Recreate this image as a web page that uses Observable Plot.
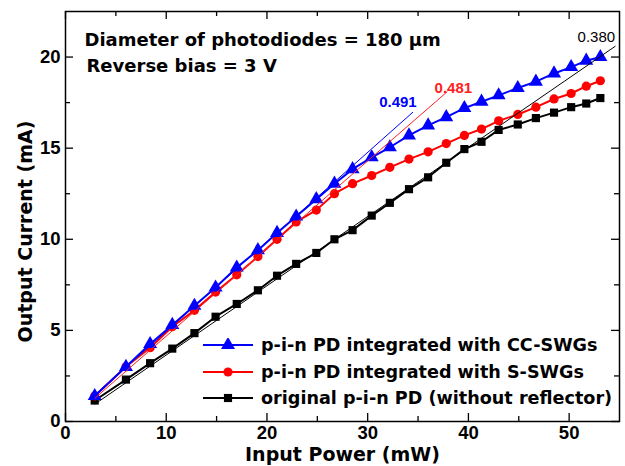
<!DOCTYPE html>
<html><head><meta charset="utf-8">
<script src="https://cdn.jsdelivr.net/npm/d3@7"></script>
<script src="https://cdn.jsdelivr.net/npm/@observablehq/plot@0.6"></script>
<style>
body{margin:0;background:#fff;}
#wrap{position:relative;width:625px;height:466px;}
#legend{position:absolute;left:203px;top:333px;font-family:"DejaVu Sans";font-weight:bold;font-size:17.6px;color:#000;}
.row{position:absolute;left:0;height:24px;white-space:nowrap;display:flex;align-items:center;}
.row svg{margin-right:6px;}
</style></head><body><div id="wrap"></div>
<script>
// ---- data ----
const power = [2.9, 6.0, 8.4, 10.6, 12.8, 14.9, 17.0, 19.1, 21.0, 22.9, 24.9, 26.7, 28.5, 30.4, 32.2, 34.1, 36.0, 37.8, 39.6, 41.3, 43.0, 44.9, 46.7, 48.5, 50.2, 51.7, 53.1];
const ccSwgCurrent = [1.4, 3.0, 4.25, 5.3, 6.35, 7.35, 8.45, 9.4, 10.35, 11.25, 12.2, 13.05, 13.85, 14.5, 15.05, 15.7, 16.25, 16.7, 17.2, 17.55, 17.9, 18.3, 18.65, 19.1, 19.45, 19.8, 20.0];
const sSwgCurrent = [1.4, 3.0, 4.05, 5.2, 6.1, 7.1, 8.05, 9.05, 10.0, 10.95, 11.6, 12.5, 13.05, 13.5, 13.95, 14.4, 14.8, 15.25, 15.7, 16.05, 16.5, 16.85, 17.25, 17.7, 18.0, 18.4, 18.7];
const originalCurrent = [1.15, 2.3, 3.2, 4.0, 4.85, 5.75, 6.45, 7.2, 8.0, 8.65, 9.25, 10.0, 10.5, 11.3, 12.0, 12.75, 13.4, 14.2, 14.95, 15.35, 16.0, 16.3, 16.65, 16.95, 17.25, 17.45, 17.75];
const seriesNames = ["p-i-n PD integrated with CC-SWGs", "p-i-n PD integrated with S-SWGs", "original p-i-n PD (without reflector)"];
const seriesColors = ["#0000ff", "#ff0000", "#000000"];
const seriesSymbols = ["triangle", "circle", "square"];
const xMajorTicks = [0, 10, 20, 30, 40, 50];
const xMinorTicks = [5, 15, 25, 35, 45];
const yMajorTicks = [0, 5, 10, 15, 20];
const yMinorTicks = [2.5, 7.5, 12.5, 17.5];
const fitLabels = ["0.491", "0.481", "0.380"];
const fitColors = ["#0000ff", "#ff2020", "#000000"];
const fitStartX = [2.9, 2.9, 2.9];
const fitStartY = [1.46, 1.27, 0.95];
const fitEndX = [34.5, 37.9, 54.6];
const fitEndY = [16.98, 18.1, 20.6];
const fitLabelX = [33.0, 38.5, 52.7];
const fitLabelY = [17.5, 18.3, 21.1];
const fitLabelWeight = ["bold", "bold", "normal"];
const notes = ["Diameter of photodiodes = 180 µm", "Reverse bias = 3 V"];
const xLabel = "Input Power (mW)";
const yLabel = "Output Current (mA)";

// ---- layout ----
const W = 625, H = 466, mL = 65, mR = 6, mT = 11, mB = 45;
const fw = W - mL - mR, fh = H - mT - mB;
const major = 8, minor = 5;

const seriesValues = [ccSwgCurrent, sSwgCurrent, originalCurrent];
const rows = [];
seriesValues.forEach((vals, s) => power.forEach((p, i) => rows.push({power: p, current: vals[i], s})));
const fits = fitLabels.map((t, i) => ({t, i, x1: fitStartX[i], y1: fitStartY[i], x2: fitEndX[i], y2: fitEndY[i], lx: fitLabelX[i], ly: fitLabelY[i]}));

const marks = [];
const tk = (arr, len) => [
  Plot.tickX(arr, {x: d => d, insetTop: fh - len, stroke: "black", strokeWidth: 1.3}),
  Plot.tickX(arr, {x: d => d, insetBottom: fh - len, stroke: "black", strokeWidth: 1.3})
];
const tky = (arr, len) => [
  Plot.tickY(arr, {y: d => d, insetRight: fw - len, stroke: "black", strokeWidth: 1.3}),
  Plot.tickY(arr, {y: d => d, insetLeft: fw - len, stroke: "black", strokeWidth: 1.3})
];
marks.push(...tk(xMajorTicks, major), ...tk(xMinorTicks, minor), ...tky(yMajorTicks, major), ...tky(yMinorTicks, minor));
marks.push(Plot.axisX({ticks: xMajorTicks, tickSize: 0, tickPadding: 4, label: null, fontSize: 18.5, fontWeight: "bold", fontFamily: "Liberation Sans"}));
marks.push(Plot.axisY({ticks: yMajorTicks, tickSize: 0, tickPadding: 5, label: null, fontSize: 18.5, fontWeight: "bold", fontFamily: "Liberation Sans"}));
marks.push(Plot.text([xLabel], {text: d => d, frameAnchor: "bottom", lineAnchor: "middle", dy: 33, fontSize: 19, fontWeight: "bold", fontFamily: "DejaVu Sans"}));
marks.push(Plot.text([yLabel], {text: d => d, frameAnchor: "left", textAnchor: "middle", lineAnchor: "middle", rotate: -90, dx: -40, dy: 15, fontSize: 19, fontWeight: "bold", fontFamily: "DejaVu Sans"}));
marks.push(Plot.text([notes[0]], {text: d => d, frameAnchor: "top-left", textAnchor: "start", lineAnchor: "middle", dx: 19, dy: 29, fontSize: 18, fontWeight: "bold", fontFamily: "DejaVu Sans"}));
marks.push(Plot.text([notes[1]], {text: d => d, frameAnchor: "top-left", textAnchor: "start", lineAnchor: "middle", dx: 21, dy: 55, fontSize: 18, fontWeight: "bold", fontFamily: "DejaVu Sans"}));
for (const s of [2, 1, 0]) {
  const d = rows.filter(r => r.s === s);
  marks.push(Plot.line(d, {x: "power", y: "current", stroke: seriesColors[s], strokeWidth: 2}));
  marks.push(Plot.dot(d, {x: "power", y: "current", symbol: () => seriesSymbols[s], fill: seriesColors[s], stroke: "none", r: s === 0 ? 5.2 : 4.6}));
}
marks.push(Plot.link(fits, {x1: "x1", y1: "y1", x2: "x2", y2: "y2", stroke: d => fitColors[d.i], strokeWidth: 1}));
fits.forEach(f => {
  marks.push(Plot.text([f], {x: "lx", y: "ly", text: "t", fill: fitColors[f.i], fontSize: 15, fontWeight: fitLabelWeight[f.i], fontFamily: "Liberation Sans"}));
});

const chart = Plot.plot({
  width: W, height: H,
  marginLeft: mL, marginRight: mR, marginTop: mT, marginBottom: mB,
  x: {domain: [0, 55]},
  y: {domain: [0, 22.5]},
  style: {background: "white", fontFamily: "Liberation Sans", overflow: "visible"},
  marks: [...marks, Plot.frame({stroke: "black", strokeWidth: 1.5})]
});
const wrap = document.getElementById("wrap");
wrap.appendChild(chart);

const legend = d3.select(wrap).append("div").attr("id", "legend");
seriesNames.forEach((name, s) => {
  const row = legend.append("div").attr("class", "row").style("top", (s * 26.5) + "px");
  const sv = row.append("svg").attr("width", 52).attr("height", 14);
  sv.append("line").attr("x1", 0).attr("x2", 50).attr("y1", 7).attr("y2", 7).attr("stroke", seriesColors[s]).attr("stroke-width", 2);
  const size = s === 0 ? Math.PI * 5.2 * 5.2 : Math.PI * 4.6 * 4.6;
  const sym = s === 0 ? d3.symbolTriangle : s === 1 ? d3.symbolCircle : d3.symbolSquare;
  sv.append("path").attr("transform", "translate(25,7)").attr("d", d3.symbol(sym, size)()).attr("fill", seriesColors[s]);
  row.append("span").text(name);
});
</script></body></html>
